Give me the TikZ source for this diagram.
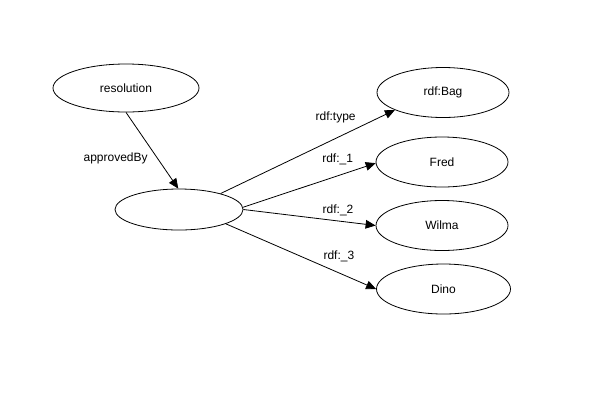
\documentclass[tikz,border=0pt]{standalone}
\usepackage{fontspec}
\setmainfont{Liberation Sans}
\usetikzlibrary{shapes.geometric,arrows.meta}
\begin{document}
\begin{tikzpicture}[x=0.75pt,y=-0.75pt,
  font=\fontsize{9pt}{10pt}\selectfont,
  ell/.style={draw, ellipse, inner sep=0pt, line width=0.6pt},
  bignode/.style={ell, minimum width=99pt, minimum height=37.5pt},
  edge/.style={line width=0.6pt, -{Triangle[length=7.5pt,width=6.5pt]}},
  lbl/.style={inner sep=0pt}]
\useasboundingbox (0,0) rectangle (595,408);
\node[ell, minimum width=109.5pt, minimum height=36pt] (res) at (126,88) {resolution};
\node[ell, minimum width=96pt, minimum height=30.75pt] (blank) at (179,209.5) {};
\node[bignode] (bag) at (443,92.5) {rdf:Bag};
\node[bignode] (fred) at (442,162) {Fred};
\node[bignode] (wilma) at (442,225.5) {Wilma};
\node[bignode, minimum width=100.5pt] (dino) at (443.5,289) {Dino};
\draw[edge] (res.south) -- node[lbl, pos=0.6, left=7pt] {approvedBy} (blank.92);
\draw[edge] (blank.21) -- node[lbl, pos=0.66, yshift=16pt] {rdf:type} (bag.200.6);
\draw[edge] (blank.2) -- node[lbl, pos=0.713, yshift=12pt] {rdf:\_1} (fred.181);
\draw[edge] (blank.0) -- node[lbl, pos=0.716, yshift=8pt] {rdf:\_2} (wilma.west);
\draw[edge] (blank.-17) -- node[lbl, pos=0.752, yshift=12.7pt] {rdf:\_3} (dino.west);
\end{tikzpicture}
\end{document}
